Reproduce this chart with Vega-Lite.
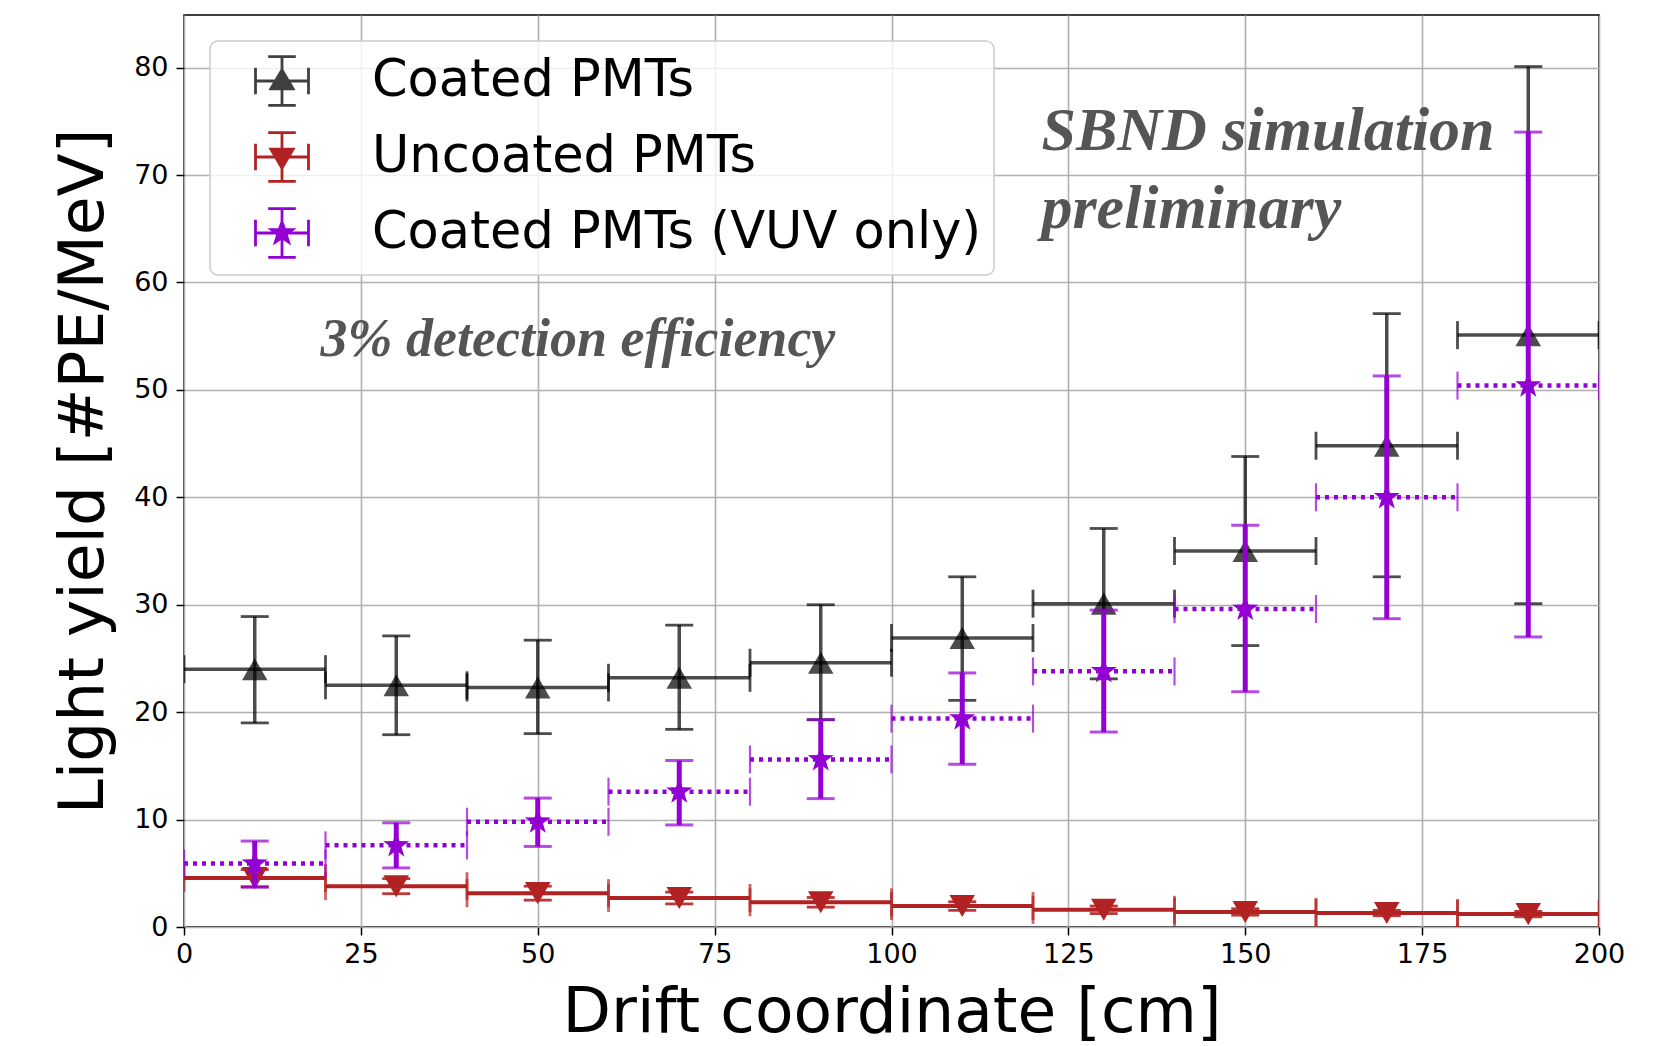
{
  "$schema": "https://vega.github.io/schema/vega-lite/v6.json",
  "width": 1415,
  "height": 912,
  "autosize": {"type": "none"},
  "padding": {"left": 184, "top": 15, "right": 76, "bottom": 119},
  "background": "white",
  "config": {
    "view": {"stroke": "#000000", "strokeWidth": 1.5},
    "font": "DejaVu Sans",
    "axis": {
      "grid": true, "gridColor": "#b0b0b0", "gridWidth": 1.6, "domain": false,
      "ticks": true, "tickColor": "#000000", "tickWidth": 1.5, "tickSize": 8,
      "labelFont": "DejaVu Sans", "labelFontSize": 27, "labelColor": "#000000",
      "titleFont": "DejaVu Sans", "titleFontSize": 63, "titleFontWeight": "normal", "titleColor": "#000000"
    },
    "axisX": {"labelPadding": 6, "titlePadding": 14, "labelFlush": false},
    "axisY": {"labelPadding": 8, "titlePadding": 18},
    "legend": {
      "orient": "none", "legendX": 26, "legendY": 26, "padding": 12,
      "fillColor": "rgba(255,255,255,0.8)", "strokeColor": "#cccccc", "strokeWidth": 1.5, "cornerRadius": 8,
      "symbolSize": 2809, "symbolStrokeWidth": 2.8, "symbolOffset": 32, "labelOffset": 62,
      "labelFontSize": 51, "labelFont": "DejaVu Sans", "labelColor": "#000000",
      "rowPadding": 16, "symbolOpacity": 1, "labelLimit": 1000
    }
  },
  "datasets": {
    "pts": [
      {"series": "Coated PMTs", "x": 10, "lo": 0, "hi": 20, "y": 24.0, "ylo": 19.0, "yhi": 28.9},
      {"series": "Coated PMTs", "x": 30, "lo": 20, "hi": 40, "y": 22.5, "ylo": 17.9, "yhi": 27.1},
      {"series": "Coated PMTs", "x": 50, "lo": 40, "hi": 60, "y": 22.3, "ylo": 18.0, "yhi": 26.7},
      {"series": "Coated PMTs", "x": 70, "lo": 60, "hi": 80, "y": 23.2, "ylo": 18.4, "yhi": 28.1},
      {"series": "Coated PMTs", "x": 90, "lo": 80, "hi": 100, "y": 24.6, "ylo": 19.3, "yhi": 30.0},
      {"series": "Coated PMTs", "x": 110, "lo": 100, "hi": 120, "y": 26.9, "ylo": 21.1, "yhi": 32.6},
      {"series": "Coated PMTs", "x": 130, "lo": 120, "hi": 140, "y": 30.1, "ylo": 23.1, "yhi": 37.1},
      {"series": "Coated PMTs", "x": 150, "lo": 140, "hi": 160, "y": 35.0, "ylo": 26.2, "yhi": 43.8},
      {"series": "Coated PMTs", "x": 170, "lo": 160, "hi": 180, "y": 44.8, "ylo": 32.6, "yhi": 57.1},
      {"series": "Coated PMTs", "x": 190, "lo": 180, "hi": 200, "y": 55.1, "ylo": 30.1, "yhi": 80.1},
      {"series": "Uncoated PMTs", "x": 10, "lo": 0, "hi": 20, "y": 4.55, "ylo": 3.75, "yhi": 5.35},
      {"series": "Uncoated PMTs", "x": 30, "lo": 20, "hi": 40, "y": 3.8, "ylo": 3.1, "yhi": 4.5},
      {"series": "Uncoated PMTs", "x": 50, "lo": 40, "hi": 60, "y": 3.15, "ylo": 2.5, "yhi": 3.8},
      {"series": "Uncoated PMTs", "x": 70, "lo": 60, "hi": 80, "y": 2.7, "ylo": 2.15, "yhi": 3.25},
      {"series": "Uncoated PMTs", "x": 90, "lo": 80, "hi": 100, "y": 2.3, "ylo": 1.85, "yhi": 2.75},
      {"series": "Uncoated PMTs", "x": 110, "lo": 100, "hi": 120, "y": 1.95, "ylo": 1.55, "yhi": 2.35},
      {"series": "Uncoated PMTs", "x": 130, "lo": 120, "hi": 140, "y": 1.6, "ylo": 1.25, "yhi": 1.95},
      {"series": "Uncoated PMTs", "x": 150, "lo": 140, "hi": 160, "y": 1.4, "ylo": 1.1, "yhi": 1.7},
      {"series": "Uncoated PMTs", "x": 170, "lo": 160, "hi": 180, "y": 1.3, "ylo": 1.05, "yhi": 1.55},
      {"series": "Uncoated PMTs", "x": 190, "lo": 180, "hi": 200, "y": 1.2, "ylo": 0.95, "yhi": 1.45},
      {"series": "Coated PMTs (VUV only)", "x": 10, "lo": 0, "hi": 20, "y": 5.9, "ylo": 3.7, "yhi": 8.0},
      {"series": "Coated PMTs (VUV only)", "x": 30, "lo": 20, "hi": 40, "y": 7.6, "ylo": 5.5, "yhi": 9.7},
      {"series": "Coated PMTs (VUV only)", "x": 50, "lo": 40, "hi": 60, "y": 9.8, "ylo": 7.5, "yhi": 12.0},
      {"series": "Coated PMTs (VUV only)", "x": 70, "lo": 60, "hi": 80, "y": 12.6, "ylo": 9.5, "yhi": 15.5},
      {"series": "Coated PMTs (VUV only)", "x": 90, "lo": 80, "hi": 100, "y": 15.6, "ylo": 11.95, "yhi": 19.3},
      {"series": "Coated PMTs (VUV only)", "x": 110, "lo": 100, "hi": 120, "y": 19.4, "ylo": 15.15, "yhi": 23.65},
      {"series": "Coated PMTs (VUV only)", "x": 130, "lo": 120, "hi": 140, "y": 23.8, "ylo": 18.15, "yhi": 29.5},
      {"series": "Coated PMTs (VUV only)", "x": 150, "lo": 140, "hi": 160, "y": 29.6, "ylo": 21.9, "yhi": 37.4},
      {"series": "Coated PMTs (VUV only)", "x": 170, "lo": 160, "hi": 180, "y": 40.0, "ylo": 28.7, "yhi": 51.3},
      {"series": "Coated PMTs (VUV only)", "x": 190, "lo": 180, "hi": 200, "y": 50.4, "ylo": 27.0, "yhi": 74.0}
    ],
    "notes": [
      {"text": "SBND simulation", "x": 121.2, "y": 72.3},
      {"text": "preliminary", "x": 121.2, "y": 65.1},
      {"text": "3% detection efficiency", "x": 19.3, "y": 53.2}
    ]
  },
  "layer": [
    {
      "data": {"name": "pts"},
      "mark": {"type": "point", "filled": true, "opacity": 0},
      "encoding": {
        "x": {"field": "x", "type": "quantitative", "scale": {"domain": [0, 200], "nice": false, "zero": false}, "title": "Drift coordinate [cm]", "axis": {"values": [0, 25, 50, 75, 100, 125, 150, 175, 200]}},
        "y": {"field": "y", "type": "quantitative", "scale": {"domain": [0, 84.9], "nice": false, "zero": false}, "title": "Light yield [#PE/MeV]", "axis": {"values": [0, 10, 20, 30, 40, 50, 60, 70, 80]}},
        "fill": {"field": "series", "type": "nominal", "scale": {"domain": ["Coated PMTs", "Uncoated PMTs", "Coated PMTs (VUV only)"], "range": ["#404040", "#b22222", "#9400d3"]}, "legend": {"title": null}},
        "stroke": {"field": "series", "type": "nominal", "scale": {"domain": ["Coated PMTs", "Uncoated PMTs", "Coated PMTs (VUV only)"], "range": ["#404040", "#b22222", "#9400d3"]}},
        "shape": {"field": "series", "type": "nominal", "scale": {"domain": ["Coated PMTs", "Uncoated PMTs", "Coated PMTs (VUV only)"], "range": [
          "M-1,0L1,0M0,-0.92L0,0.92M-0.52,-0.92L0.52,-0.92M-0.52,0.92L0.52,0.92M-1,-0.5L-1,0.5M1,-0.5L1,0.5M0,-0.42L0.42,0.3L-0.42,0.3Z",
          "M-1,0L1,0M0,-0.92L0,0.92M-0.52,-0.92L0.52,-0.92M-0.52,0.92L0.52,0.92M-1,-0.5L-1,0.5M1,-0.5L1,0.5M0,0.42L0.42,-0.3L-0.42,-0.3Z",
          "M-1,0L1,0M0,-0.92L0,0.92M-0.52,-0.92L0.52,-0.92M-0.52,0.92L0.52,0.92M-1,-0.5L-1,0.5M1,-0.5L1,0.5M0,-0.42L0.1,-0.14L0.4,-0.13L0.16,0.05L0.25,0.34L0,0.17L-0.25,0.34L-0.16,0.05L-0.4,-0.13L-0.1,-0.14Z"
        ]}}
      }
    },
    {
      "data": {"name": "pts"},
      "transform": [{"filter": "datum.series === 'Coated PMTs'"}],
      "layer": [
        {"mark": {"type": "rule", "color": "#000000", "opacity": 0.7, "strokeWidth": 3.5, "clip": true},
         "encoding": {"x": {"field": "lo", "type": "quantitative", "scale": {"domain": [0, 200], "nice": false, "zero": false}}, "x2": {"field": "hi"}, "y": {"field": "y", "type": "quantitative", "scale": {"domain": [0, 84.9], "nice": false, "zero": false}}}},
        {"mark": {"type": "rule", "color": "#000000", "opacity": 0.7, "strokeWidth": 3.5, "clip": true},
         "encoding": {"x": {"field": "x", "type": "quantitative", "scale": {"domain": [0, 200], "nice": false, "zero": false}}, "y": {"field": "ylo", "type": "quantitative", "scale": {"domain": [0, 84.9], "nice": false, "zero": false}}, "y2": {"field": "yhi"}}},
        {"transform": [{"fold": ["ylo", "yhi"], "as": ["k", "v"]}],
         "mark": {"type": "tick", "orient": "horizontal", "size": 28, "thickness": 2.8, "color": "#000000", "opacity": 0.7, "clip": true},
         "encoding": {"x": {"field": "x", "type": "quantitative", "scale": {"domain": [0, 200], "nice": false, "zero": false}}, "y": {"field": "v", "type": "quantitative", "scale": {"domain": [0, 84.9], "nice": false, "zero": false}}}},
        {"transform": [{"fold": ["lo", "hi"], "as": ["k", "v"]}],
         "mark": {"type": "tick", "orient": "vertical", "size": 28, "thickness": 2.8, "color": "#000000", "opacity": 0.7, "clip": true},
         "encoding": {"x": {"field": "v", "type": "quantitative", "scale": {"domain": [0, 200], "nice": false, "zero": false}}, "y": {"field": "y", "type": "quantitative", "scale": {"domain": [0, 84.9], "nice": false, "zero": false}}}},
        {"mark": {"type": "point", "shape": "triangle-up", "filled": true, "size": 650, "color": "#000000", "opacity": 0.7},
         "encoding": {"x": {"field": "x", "type": "quantitative", "scale": {"domain": [0, 200], "nice": false, "zero": false}}, "y": {"field": "y", "type": "quantitative", "scale": {"domain": [0, 84.9], "nice": false, "zero": false}}}}
      ]
    },
    {
      "data": {"name": "pts"},
      "transform": [{"filter": "datum.series === 'Uncoated PMTs'"}],
      "layer": [
        {"mark": {"type": "rule", "color": "#b22222", "strokeWidth": 4, "clip": true},
         "encoding": {"x": {"field": "lo", "type": "quantitative", "scale": {"domain": [0, 200], "nice": false, "zero": false}}, "x2": {"field": "hi"}, "y": {"field": "y", "type": "quantitative", "scale": {"domain": [0, 84.9], "nice": false, "zero": false}}}},
        {"mark": {"type": "rule", "color": "#b22222", "strokeWidth": 4, "clip": true},
         "encoding": {"x": {"field": "x", "type": "quantitative", "scale": {"domain": [0, 200], "nice": false, "zero": false}}, "y": {"field": "ylo", "type": "quantitative", "scale": {"domain": [0, 84.9], "nice": false, "zero": false}}, "y2": {"field": "yhi"}}},
        {"transform": [{"fold": ["ylo", "yhi"], "as": ["k", "v"]}],
         "mark": {"type": "tick", "orient": "horizontal", "size": 28, "thickness": 2.8, "color": "#b22222", "opacity": 0.9, "clip": true},
         "encoding": {"x": {"field": "x", "type": "quantitative", "scale": {"domain": [0, 200], "nice": false, "zero": false}}, "y": {"field": "v", "type": "quantitative", "scale": {"domain": [0, 84.9], "nice": false, "zero": false}}}},
        {"transform": [{"fold": ["lo", "hi"], "as": ["k", "v"]}],
         "mark": {"type": "tick", "orient": "vertical", "size": 28, "thickness": 2.8, "color": "#b22222", "clip": true},
         "encoding": {"x": {"field": "v", "type": "quantitative", "scale": {"domain": [0, 200], "nice": false, "zero": false}}, "y": {"field": "y", "type": "quantitative", "scale": {"domain": [0, 84.9], "nice": false, "zero": false}}}},
        {"mark": {"type": "point", "shape": "triangle-down", "filled": true, "size": 650, "color": "#b22222", "opacity": 1},
         "encoding": {"x": {"field": "x", "type": "quantitative", "scale": {"domain": [0, 200], "nice": false, "zero": false}}, "y": {"field": "y", "type": "quantitative", "scale": {"domain": [0, 84.9], "nice": false, "zero": false}}}}
      ]
    },
    {
      "data": {"name": "pts"},
      "transform": [{"filter": "datum.series === 'Coated PMTs (VUV only)'"}],
      "layer": [
        {"mark": {"type": "rule", "color": "#9400d3", "strokeWidth": 4.5, "strokeDash": [4, 5], "clip": true},
         "encoding": {"x": {"field": "lo", "type": "quantitative", "scale": {"domain": [0, 200], "nice": false, "zero": false}}, "x2": {"field": "hi"}, "y": {"field": "y", "type": "quantitative", "scale": {"domain": [0, 84.9], "nice": false, "zero": false}}}},
        {"mark": {"type": "rule", "color": "#9400d3", "strokeWidth": 5, "clip": true},
         "encoding": {"x": {"field": "x", "type": "quantitative", "scale": {"domain": [0, 200], "nice": false, "zero": false}}, "y": {"field": "ylo", "type": "quantitative", "scale": {"domain": [0, 84.9], "nice": false, "zero": false}}, "y2": {"field": "yhi"}}},
        {"transform": [{"fold": ["ylo", "yhi"], "as": ["k", "v"]}],
         "mark": {"type": "tick", "orient": "horizontal", "size": 28, "thickness": 3, "color": "#9400d3", "clip": true},
         "encoding": {"x": {"field": "x", "type": "quantitative", "scale": {"domain": [0, 200], "nice": false, "zero": false}}, "y": {"field": "v", "type": "quantitative", "scale": {"domain": [0, 84.9], "nice": false, "zero": false}}}},
        {"transform": [{"fold": ["lo", "hi"], "as": ["k", "v"]}],
         "mark": {"type": "tick", "orient": "vertical", "size": 28, "thickness": 2.2, "color": "#9400d3", "clip": true},
         "encoding": {"x": {"field": "v", "type": "quantitative", "scale": {"domain": [0, 200], "nice": false, "zero": false}}, "y": {"field": "y", "type": "quantitative", "scale": {"domain": [0, 84.9], "nice": false, "zero": false}}}},
        {"mark": {"type": "point", "shape": "M0,-1L0.235,-0.324L0.951,-0.309L0.38,0.124L0.588,0.809L0,0.4L-0.588,0.809L-0.38,0.124L-0.951,-0.309L-0.235,-0.324Z", "filled": true, "size": 750, "color": "#9400d3", "opacity": 1},
         "encoding": {"x": {"field": "x", "type": "quantitative", "scale": {"domain": [0, 200], "nice": false, "zero": false}}, "y": {"field": "y", "type": "quantitative", "scale": {"domain": [0, 84.9], "nice": false, "zero": false}}}}
      ]
    },
    {
      "data": {"name": "notes"},
      "transform": [{"filter": "datum.text !== '3% detection efficiency'"}],
      "mark": {"type": "text", "align": "left", "baseline": "alphabetic", "font": "Liberation Serif", "fontStyle": "italic", "fontWeight": "bold", "fontSize": 62, "color": "#555555"},
      "encoding": {
        "x": {"field": "x", "type": "quantitative", "scale": {"domain": [0, 200], "nice": false, "zero": false}},
        "y": {"field": "y", "type": "quantitative", "scale": {"domain": [0, 84.9], "nice": false, "zero": false}},
        "text": {"field": "text"}
      }
    },
    {
      "data": {"name": "notes"},
      "transform": [{"filter": "datum.text === '3% detection efficiency'"}],
      "mark": {"type": "text", "align": "left", "baseline": "alphabetic", "font": "Liberation Serif", "fontStyle": "italic", "fontWeight": "bold", "fontSize": 54, "color": "#555555"},
      "encoding": {
        "x": {"field": "x", "type": "quantitative", "scale": {"domain": [0, 200], "nice": false, "zero": false}},
        "y": {"field": "y", "type": "quantitative", "scale": {"domain": [0, 84.9], "nice": false, "zero": false}},
        "text": {"field": "text"}
      }
    }
  ]
}
